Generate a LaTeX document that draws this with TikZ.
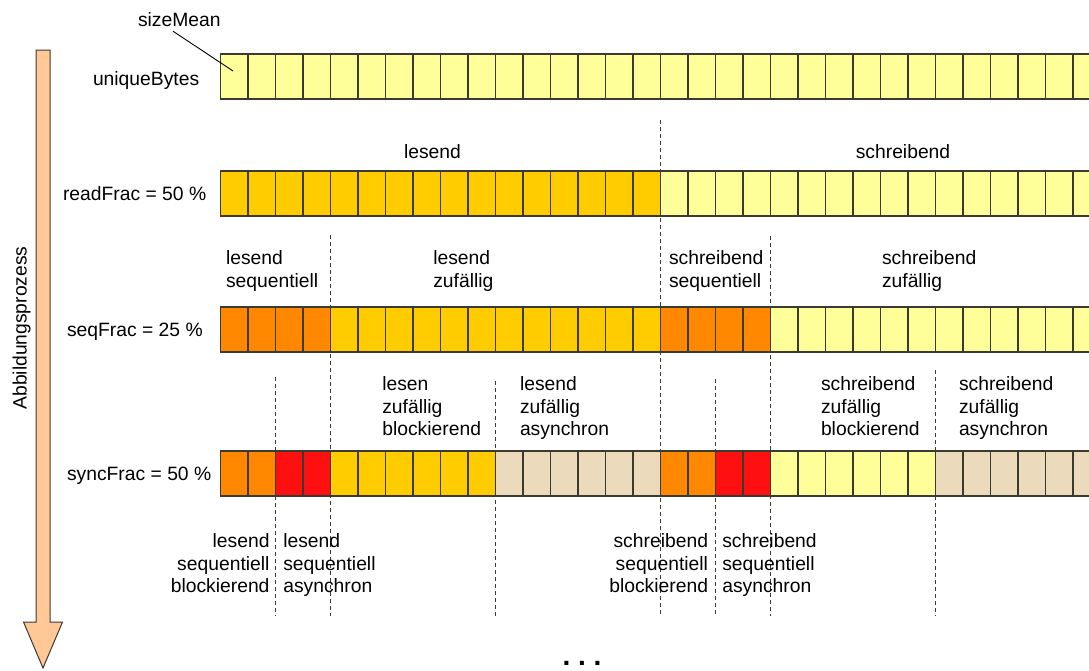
\documentclass[tikz,border=0pt]{standalone}
\usepackage{fontspec}
\setmainfont{Liberation Sans}
\usetikzlibrary{calc}

\definecolor{cLight}{HTML}{FFFF99}
\definecolor{cGold}{HTML}{FFCC00}
\definecolor{cOrange}{HTML}{FF8800}
\definecolor{cRed}{HTML}{FF1010}
\definecolor{cTan}{HTML}{EBDABB}
\definecolor{cArrow}{HTML}{FFC896}
\definecolor{cEdge}{HTML}{3A3A30}

% a run of #4 cells of colour #5 in row #1 (top edge #2), starting at cell #3
\newcommand\cellrun[5]{%
  \foreach \k in {1,...,#4}{%
    \pgfmathtruncatemacro\idx{#3+\k-1}%
    \node[cell, fill=#5] (#1-\idx) at ({220.5+27.5*\idx}, #2) {};
  }%
}

\begin{document}
\begin{tikzpicture}[x=1pt, y=-1pt,
  font=\fontsize{19.3}{22.5}\selectfont,
  cell/.style={draw=cEdge, line width=1.1pt, minimum width=27.5pt,
    minimum height=45pt, inner sep=0pt, outer sep=0pt, anchor=north west},
  lbl/.style={inner sep=0pt, outer sep=0pt},
  llbl/.style={lbl, anchor=north west, align=left},
  rlbl/.style={lbl, anchor=north east, align=right},
  sep/.style={draw=cEdge, line width=1pt, dash pattern=on 4pt off 3pt},
  pointer/.style={draw=black, line width=0.9pt},
  process/.style={draw=cEdge, line width=1pt, fill=cArrow}]

\useasboundingbox (0,0) rectangle (1089,670);
\clip (0,0) rectangle (1089,670);

% mapping-process arrow on the left
\draw[process] (36,50) -- (50,50) -- (50,622) -- (62.5,622)
  -- (43,668) -- (23.5,622) -- (36,622) -- cycle;
\node[lbl, rotate=90, anchor=base] (proc) at (26.5,328) {Abbildungsprozess};

% row 1: uniqueBytes
\cellrun{ra}{54}{0}{32}{cLight}
% row 2: readFrac
\cellrun{rb}{171}{0}{16}{cGold}
\cellrun{rb}{171}{16}{16}{cLight}
% row 3: seqFrac
\cellrun{rc}{307}{0}{4}{cOrange}
\cellrun{rc}{307}{4}{12}{cGold}
\cellrun{rc}{307}{16}{4}{cOrange}
\cellrun{rc}{307}{20}{12}{cLight}
% row 4: syncFrac
\cellrun{rd}{451}{0}{2}{cOrange}
\cellrun{rd}{451}{2}{2}{cRed}
\cellrun{rd}{451}{4}{6}{cGold}
\cellrun{rd}{451}{10}{6}{cTan}
\cellrun{rd}{451}{16}{2}{cOrange}
\cellrun{rd}{451}{18}{2}{cRed}
\cellrun{rd}{451}{20}{6}{cLight}
\cellrun{rd}{451}{26}{6}{cTan}

% row captions
\node[lbl, anchor=base west] (unique) at (93,85) {uniqueBytes};
\node[lbl, anchor=base west] (readf) at (63,200.5) {readFrac = 50 \%};
\node[lbl, anchor=base west] (seqf) at (67,336.5) {seqFrac = 25 \%};
\node[lbl, anchor=base west] (syncf) at (67,480.5) {syncFrac = 50 \%};

% sizeMean pointer
\node[lbl, anchor=base west] (size) at (138,26) {sizeMean};
\coordinate (sizetip) at (233,71);
\draw[pointer] (size.south -| 173,0) ++(0,5) -- (sizetip);

% separators
\coordinate (s16a) at (660.5,120);  \coordinate (s16b) at (660.5,616);
\coordinate (s4a)  at (330.5,235);  \coordinate (s4b)  at (330.5,616);
\coordinate (s20a) at (770.5,236);  \coordinate (s20b) at (770.5,616);
\coordinate (s2a)  at (275.5,377);  \coordinate (s2b)  at (275.5,616);
\coordinate (s10a) at (495.5,381);  \coordinate (s10b) at (495.5,616);
\coordinate (s18a) at (715.5,379);  \coordinate (s18b) at (715.5,616);
\coordinate (s26a) at (935.5,370);  \coordinate (s26b) at (935.5,616);
\foreach \s in {16,4,20,2,10,18,26}{\draw[sep] (s\s a) -- (s\s b);}

% labels above row 2
\node[lbl, anchor=base] (lread) at (432.5,158.3) {lesend};
\node[lbl, anchor=base] (lwrite) at (903,158.3) {schreibend};

% labels above row 3
\node[llbl] (lrs) at (226,251) {lesend\\sequentiell};
\node[llbl] (lrr) at (433.3,251) {lesend\\zufällig};
\node[llbl] (lws) at (669,251) {schreibend\\sequentiell};
\node[llbl] (lwr) at (882,251) {schreibend\\zufällig};

% labels above row 4
\node[llbl] (lrrb) at (382.3,377) {lesen\\zufällig\\blockierend};
\node[llbl] (lrra) at (520,377) {lesend\\zufällig\\asynchron};
\node[llbl] (lwrb) at (821,377) {schreibend\\zufällig\\blockierend};
\node[llbl] (lwra) at (959,377) {schreibend\\zufällig\\asynchron};

% labels below row 4
\node[rlbl] (lrsb) at (269.5,534) {lesend\\sequentiell\\blockierend};
\node[llbl] (lrsa) at (283.3,534) {lesend\\sequentiell\\asynchron};
\node[rlbl] (lwsb) at (708,534) {schreibend\\sequentiell\\blockierend};
\node[llbl] (lwsa) at (722.3,534) {schreibend\\sequentiell\\asynchron};

% continuation
\node[lbl, anchor=base, font=\fontsize{28}{30}\bfseries] (more) at (582,665)
  {.\hspace{7.7pt}.\hspace{7.7pt}.};

\end{tikzpicture}
\end{document}
